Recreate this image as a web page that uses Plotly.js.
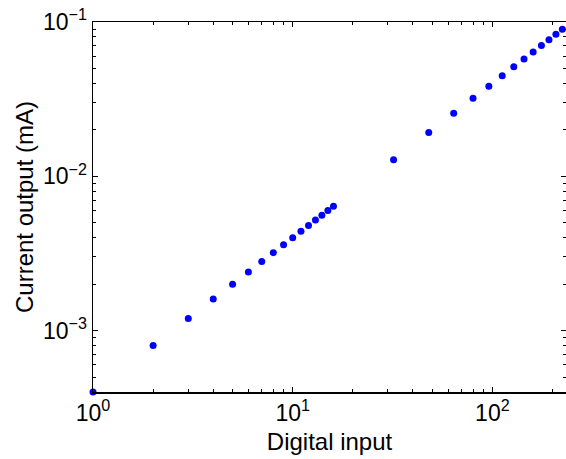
<!DOCTYPE html>
<html>
<head>
<meta charset="utf-8">
<script src="https://cdn.plot.ly/plotly-3.0.1.min.js"></script>
<style>html,body{margin:0;padding:0;overflow:hidden;background:#fff;}</style>
</head>
<body>
<div id="chart" style="width:566px;height:459px;"></div>
<script>
// Digital input codes
var digitalInput = [1, 2, 3, 4, 5, 6, 7, 8, 9, 10, 11, 12, 13, 14, 15, 16,
  32, 48, 64, 80, 96, 112, 128, 144, 160, 176, 192, 208, 224, 240];
// Current output (mA)
var currentOutput = [0.0004, 0.0008, 0.0012, 0.0016, 0.0020, 0.0024, 0.0028, 0.0032,
  0.0036, 0.0040, 0.0044, 0.0048, 0.0052, 0.0056, 0.0060, 0.0064,
  0.0128, 0.0192, 0.0256, 0.0320, 0.0384, 0.0448, 0.0512, 0.0576,
  0.0640, 0.0704, 0.0768, 0.0832, 0.0896, 0.0960];

var xTickVals = [1, 10, 100];
var xTickText = ['10<sup>0</sup>', '10<sup>1</sup>', '10<sup>2</sup>'];
var xMinorVals = [2,3,4,5,6,7,8,9,20,30,40,50,60,70,80,90,200];
var yTickVals = [0.001, 0.01, 0.1];
var yTickText = ['10<sup>\u22123</sup>', '10<sup>\u22122</sup>', '10<sup>\u22121</sup>'];
var yMinorVals = [0.0004,0.0005,0.0006,0.0007,0.0008,0.0009,
  0.002,0.003,0.004,0.005,0.006,0.007,0.008,0.009,
  0.02,0.03,0.04,0.05,0.06,0.07,0.08,0.09];

var fam = 'Liberation Sans, Arial, Helvetica, sans-serif';

var trace = {
  x: digitalInput,
  y: currentOutput,
  type: 'scatter',
  mode: 'markers',
  marker: {color: '#0000ff', size: 7},
  cliponaxis: false,
  showlegend: false
};

function axisBase() {
  return {
    type: 'log',
    tickmode: 'array',
    ticks: 'inside',
    ticklen: 5,
    tickwidth: 1,
    tickcolor: '#000',
    showline: true,
    linecolor: '#000',
    linewidth: 1.5,
    mirror: 'ticks',
    showgrid: false,
    zeroline: false,
    tickfont: {family: fam, size: 23, color: '#000'}
  };
}

var xaxis = axisBase();
xaxis.range = [0, 2.3686];
xaxis.tickvals = xTickVals;
xaxis.ticktext = xTickText;
xaxis.minor = {tickmode: 'array', tickvals: xMinorVals, ticks: 'inside', ticklen: 3, tickwidth: 1, tickcolor: '#000', showgrid: false};
xaxis.title = {text: 'Digital input', font: {family: fam, size: 24, color: '#000'}, standoff: 8};

var yaxis = axisBase();
yaxis.range = [Math.log10(0.0004), -1];
yaxis.tickvals = yTickVals;
yaxis.ticktext = yTickText;
yaxis.minor = {tickmode: 'array', tickvals: yMinorVals, ticks: 'inside', ticklen: 3, tickwidth: 1, tickcolor: '#000', showgrid: false};
yaxis.title = {text: 'Current output (mA)', font: {family: fam, size: 24, color: '#000'}, standoff: 2};

var layout = {
  width: 566,
  height: 459,
  margin: {l: 93, r: 0, t: 22, b: 67},
  paper_bgcolor: '#fff',
  plot_bgcolor: '#fff',
  font: {family: fam, color: '#000'},
  xaxis: xaxis,
  yaxis: yaxis
};

Plotly.newPlot('chart', [trace], layout, {displayModeBar: false, staticPlot: true});
</script>
</body>
</html>
